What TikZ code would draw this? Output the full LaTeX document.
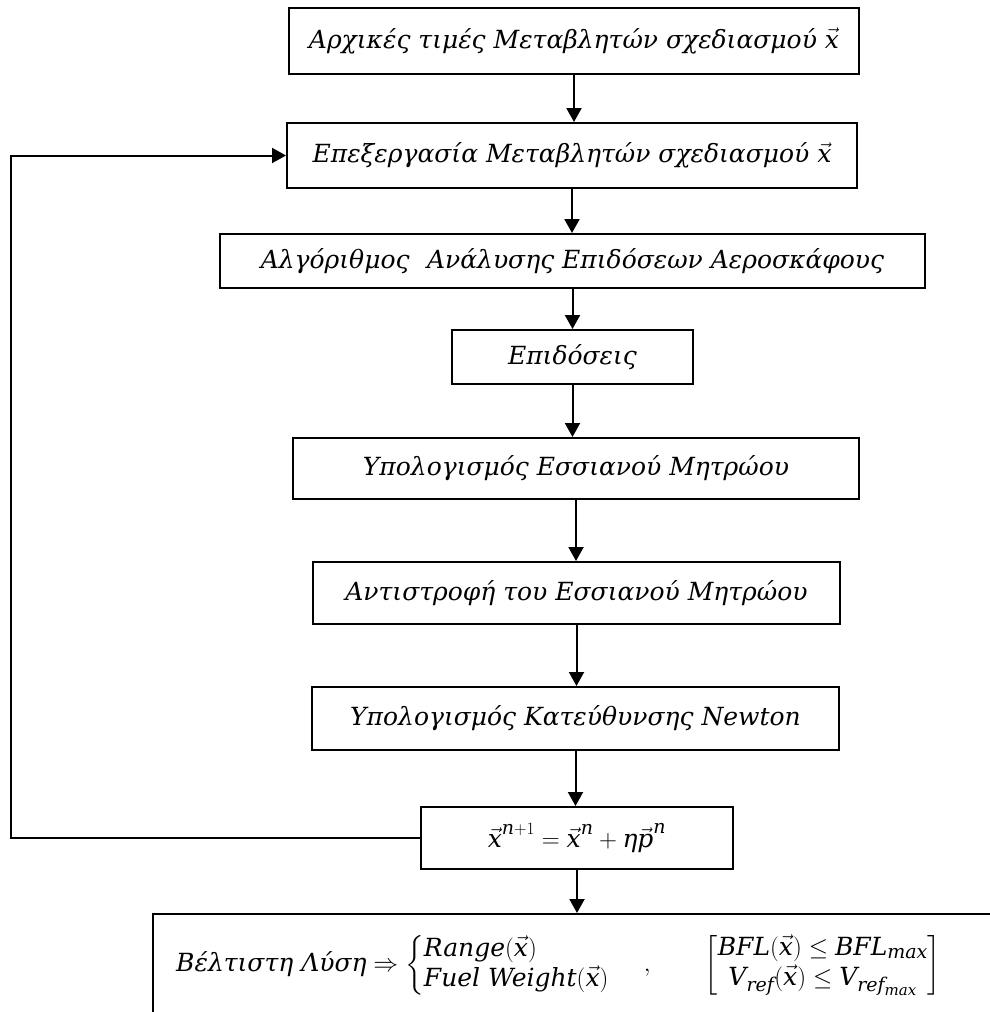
\documentclass[tikz,border=0pt]{standalone}
\usepackage{amsmath}
\usepackage{fontspec}
\setmainfont{DejaVu Serif}
\usetikzlibrary{arrows.meta}
% larger script sizes for the formulas
\DeclareMathSizes{25}{25}{19}{15}
% italic words inside formulas
\newcommand\gt[1]{\text{#1}}
\newcommand\vx{\vec{\gt{x}}}
\begin{document}
\begin{tikzpicture}[x=1pt,y=-1pt,
  box/.style={draw, line width=2pt, line join=miter, inner sep=0pt,
    font=\fontsize{25}{30}\selectfont\itshape},
  txt/.style={inner sep=0pt, font=\fontsize{25}{30}\selectfont\itshape},
  flow/.style={line width=2pt, line join=miter, -{Triangle[length=14pt,width=15pt]}}]
\useasboundingbox (0,0) rectangle (990,1012);

% process boxes
\node[box, minimum width=570pt, minimum height=66pt] (b1) at (574,41)
  {Αρχικές τιμές Μεταβλητών σχεδιασμού $\vx$};
\node[box, minimum width=570pt, minimum height=65pt] (b2) at (572,155.5)
  {Επεξεργασία Μεταβλητών σχεδιασμού $\vx$};
\node[box, minimum width=705pt, minimum height=54pt] (b3) at (572.5,261)
  {Αλγόριθμος\hspace{0.7em}Ανάλυσης Επιδόσεων Αεροσκάφους};
\node[box, minimum width=241pt, minimum height=54pt] (b4) at (572.5,357)
  {Επιδόσεις};
\node[box, minimum width=566pt, minimum height=61pt] (b5) at (576,468.5)
  {Υπολογισμός Εσσιανού Μητρώου};
\node[box, minimum width=527pt, minimum height=62pt] (b6) at (576.5,593)
  {Αντιστροφή του Εσσιανού Μητρώου};
\node[box, minimum width=527pt, minimum height=63pt] (b7) at (575.5,718.5)
  {Υπολογισμός Κατεύθυνσης Newton};
\node[box, minimum width=312pt, minimum height=62pt] (b8) at (577,838)
  {$\vx^{\gt{n}+1} = \vx^{\gt{n}} + \gt{η}\vec{\gt{p}}^{\gt{n}}$};

% result box, running off the right and bottom edges
\node[box, minimum width=847pt, minimum height=116pt] (b9) at (576.5,972) {};
\node[txt, anchor=west] (sol) at (176,965)
  {$\gt{Βέλτιστη Λύση} \Rightarrow
    \left\{\begin{array}{@{}l@{}}
      \gt{Range}(\vx)\\
      \gt{Fuel Weight}(\vx)
    \end{array}\right.
    \hspace{30pt} , \hspace{50pt}
    \left[\begin{array}{@{}c@{}}
      \gt{BFL}(\vx) \leq \gt{BFL}_{\gt{max}}\\
      \gt{V}_{\gt{ref}}(\vx) \leq \gt{V}_{\gt{ref}_{\gt{max}}}
    \end{array}\right]$};

% flow arrows
\draw[flow] (b1.south) -- (b1.south |- b2.north);
\draw[flow] (b2.south) -- (b2.south |- b3.north);
\draw[flow] (b3.south) -- (b3.south |- b4.north);
\draw[flow] (b4.south) -- (b4.south |- b5.north);
\draw[flow] (b5.south) -- (b5.south |- b6.north);
\draw[flow] (b6.south) -- (b6.south |- b7.north);
\draw[flow] (b7.south) -- (b7.south |- b8.north);
\draw[flow] (b8.south) -- (b8.south |- b9.north);

% feedback loop
\coordinate (fb) at (11,155.5);
\draw[flow] (b8.west) -| (fb) -- (b2.west);
\end{tikzpicture}
\end{document}
